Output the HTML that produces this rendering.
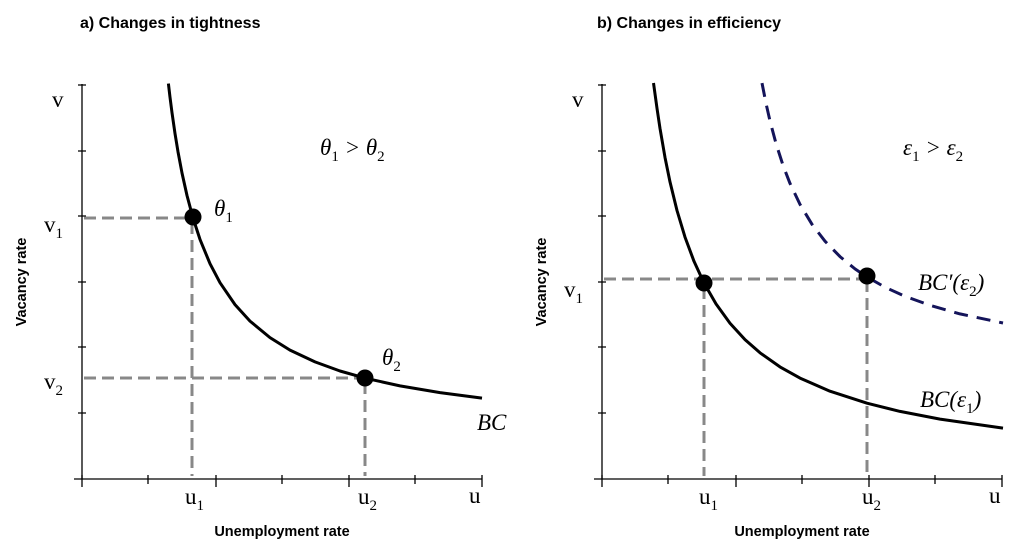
<!DOCTYPE html>
<html><head><meta charset="utf-8"><style>
body{margin:0;background:#fff}
svg{display:block}
.t{font-family:"Liberation Sans",sans-serif;font-weight:bold;font-size:16px}
.ax{font-family:"Liberation Sans",sans-serif;font-weight:bold;font-size:14.5px}
.s{font-family:"Liberation Serif",serif;font-size:23px}
.m{font-family:"Liberation Serif",serif;font-style:italic;font-size:23px}
.sub{font-size:15px;font-style:normal}
</style></head><body>
<svg width="1024" height="554" viewBox="0 0 1024 554" xmlns="http://www.w3.org/2000/svg">
<text class="t" x="80" y="28">a) Changes in tightness</text>
<text class="t" x="597" y="28">b) Changes in efficiency</text>

<g stroke="#000" stroke-width="1.3" fill="none">
<path d="M82 84V479H482M74 479H82"/>
<path d="M78 85H86M78 151H86M78 216H86M78 282H86M78 347H86M78 413H86"/>
<path d="M82 475V487M148 475V484M216 475V487M282 475V484M349 475V487M415 475V484M482 475V487"/>
<path d="M602 84V479H1002M594 479H602"/>
<path d="M598 85H606M598 151H606M598 216H606M598 282H606M598 347H606M598 413H606"/>
<path d="M602 475V487M668 475V484M736 475V487M802 475V484M869 475V487M935 475V484M1002 475V487"/>
</g>

<g stroke="#888" stroke-width="3" stroke-dasharray="12 6" fill="none">
<path d="M84 218H193M192 222V476M84 378H365M365 382V476"/>
<path d="M604 279H867M704 287V476M867 280V476"/>
</g>

<g stroke="#000" stroke-width="3" fill="none" stroke-linejoin="round">
<polyline points="168.4,83.6 170,97.2 172,112.7 175,133.5 178,151.8 182,173 187,195.5 193,218 200,239.4 210,263.7 220,282.7 235,304.6 250,321.1 270,337.6 290,350.1 315,361.9 340,371 365,378.1 400,385.9 440,392.6 482,398.1"/>
<polyline points="653.5,83 657,108.3 660,128.4 665,157.4 670,181.9 677,210.5 685,237.1 694,261.3 704,283 716,303.9 730,323.2 745,339.6 760,352.8 780,366.9 800,378.1 830,391.2 867,403.2 900,411.4 940,419.1 1003,428.1"/>
</g>
<polyline points="762,83.1 766,103.3 770,121 776,143.5 783,165.3 790,183.4 800,204.4 812,224.3 825,241.2 840,256.6 855,268.9 867,277 885,287.2 905,296.3 930,305.3 960,313.9 1003,323" stroke="#14145a" stroke-width="3" stroke-dasharray="14 9" fill="none" stroke-linejoin="round"/>

<g fill="#000">
<circle cx="193" cy="217" r="8.5"/><circle cx="365" cy="378" r="8.5"/>
<circle cx="704" cy="283" r="8.5"/><circle cx="867" cy="276" r="8.5"/>
</g>

<text class="s" x="52" y="107">v</text>
<text class="s" x="44" y="232">v<tspan class="sub" dy="6">1</tspan></text>
<text class="s" x="44" y="389">v<tspan class="sub" dy="6">2</tspan></text>
<text class="s" x="185" y="504">u<tspan class="sub" dy="6">1</tspan></text>
<text class="s" x="358" y="504">u<tspan class="sub" dy="6">2</tspan></text>
<text class="s" x="469" y="503">u</text>
<text class="m" x="320" y="155">θ<tspan class="sub" dy="6">1</tspan><tspan dy="-6"> &gt; θ</tspan><tspan class="sub" dy="6">2</tspan></text>
<text class="m" x="214" y="216">θ<tspan class="sub" dy="6">1</tspan></text>
<text class="m" x="382" y="365">θ<tspan class="sub" dy="6">2</tspan></text>
<text class="m" x="477" y="430">BC</text>
<text class="ax" x="282" y="536" text-anchor="middle">Unemployment rate</text>
<text class="ax" transform="translate(26 282) rotate(-90)" text-anchor="middle">Vacancy rate</text>

<text class="s" x="572" y="107">v</text>
<text class="s" x="564" y="297">v<tspan class="sub" dy="6">1</tspan></text>
<text class="s" x="699" y="504">u<tspan class="sub" dy="6">1</tspan></text>
<text class="s" x="862" y="504">u<tspan class="sub" dy="6">2</tspan></text>
<text class="s" x="989" y="503">u</text>
<text class="m" x="903" y="155">ε<tspan class="sub" dy="6">1</tspan><tspan dy="-6"> &gt; ε</tspan><tspan class="sub" dy="6">2</tspan></text>
<text class="m" x="918" y="290">BC′(ε<tspan class="sub" dy="6">2</tspan><tspan dy="-6">)</tspan></text>
<text class="m" x="920" y="407">BC(ε<tspan class="sub" dy="6">1</tspan><tspan dy="-6">)</tspan></text>
<text class="ax" x="802" y="536" text-anchor="middle">Unemployment rate</text>
<text class="ax" transform="translate(546 282) rotate(-90)" text-anchor="middle">Vacancy rate</text>
</svg>
</body></html>
